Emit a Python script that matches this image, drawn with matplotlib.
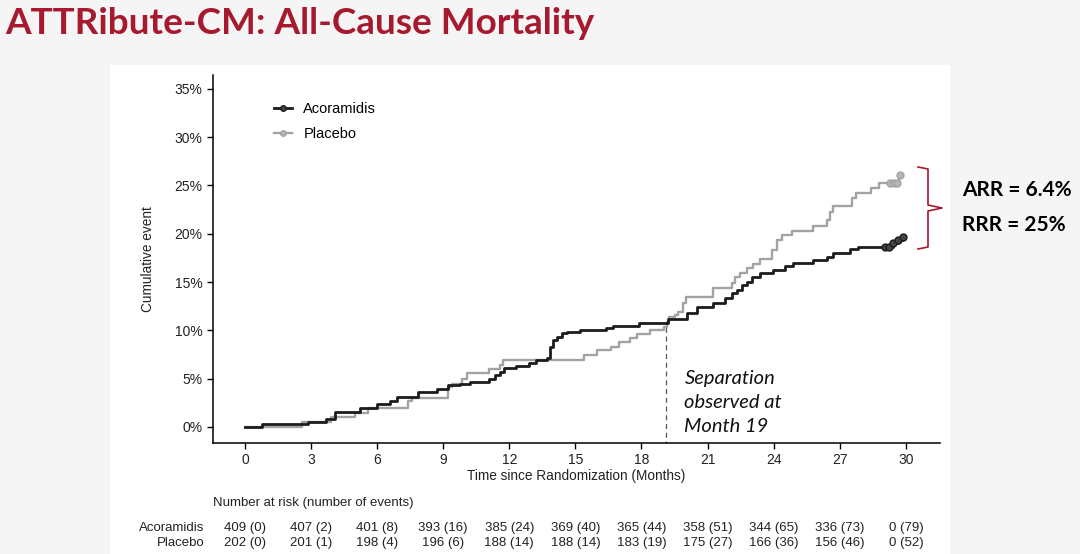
import numpy as np
from matplotlib import pyplot as plt
from matplotlib.lines import Line2D
from matplotlib.patches import Rectangle
import matplotlib.transforms as mtransforms

# curve steps (months, cumulative %)
aco_t = [0, 0.77, 2.85, 3.7, 4.1, 5.2, 6.0, 6.6, 6.9, 7.85, 8.7, 9.2, 9.75, 10.2,
         11.1, 11.35, 11.6, 11.75, 12.3, 12.9, 13.2, 13.7, 13.85, 14.0, 14.15, 14.4,
         14.6, 15.2, 16.4, 16.7, 17.9, 19.2, 20.06, 20.5, 21.24, 21.79, 22.1, 22.33,
         22.56, 22.79, 23.01, 23.38, 23.97, 24.51, 24.88, 25.79, 26.42, 26.69, 27.46,
         27.83, 29.4, 29.65, 29.85, 29.9]
aco_y = [0, 0.3, 0.5, 0.8, 1.5, 2.0, 2.4, 2.7, 3.1, 3.6, 3.9, 4.3, 4.5, 4.7,
         5.0, 5.4, 5.7, 6.1, 6.3, 6.6, 6.9, 7.1, 8.3, 9.0, 9.3, 9.7,
         9.8, 10.0, 10.2, 10.5, 10.8, 11.2, 11.8, 12.4, 12.8, 13.4, 13.9, 14.2,
         14.7, 15.0, 15.5, 15.9, 16.3, 16.7, 17.0, 17.3, 17.6, 18.0, 18.4,
         18.6, 19.0, 19.4, 19.7, 19.7]

pla_t = [0, 2.6, 3.9, 5.0, 5.6, 7.4, 7.6, 9.2, 9.4, 9.85, 10.1, 11.1, 11.6, 11.7,
         15.4, 16.0, 16.6, 17.0, 17.5, 17.8, 18.4, 19.0, 19.15, 19.25, 19.5, 19.65,
         19.9, 20.0, 21.24, 22.1, 22.24, 22.47, 22.79, 23.06, 23.38, 23.92, 24.15,
         24.38, 24.83, 25.79, 26.42, 26.55, 26.69, 27.55, 27.74, 28.42, 28.79,
         29.7, 29.75]
pla_y = [0, 0.5, 1.0, 1.4, 2.0, 2.7, 3.0, 4.1, 4.5, 5.0, 5.6, 6.0, 6.4, 6.9,
         7.5, 8.0, 8.3, 8.8, 9.2, 9.6, 10.0, 10.4, 10.9, 11.4, 11.6, 11.9,
         12.8, 13.5, 14.4, 14.9, 15.5, 15.9, 16.5, 16.9, 17.4, 18.3, 19.4,
         19.9, 20.3, 20.8, 21.4, 22.3, 22.9, 23.7, 24.2, 24.7, 25.3,
         26.1, 26.1]

# censoring marks at the end
aco_cens_t = [29.05, 29.25, 29.4, 29.65, 29.85]
aco_cens_y = [18.6, 18.6, 19.0, 19.4, 19.7]
pla_cens_t = [29.3, 29.45, 29.6, 29.75]
pla_cens_y = [25.3, 25.3, 25.3, 26.1]

# number at risk table
risk_months = [0, 3, 6, 9, 12, 15, 18, 21, 24, 27, 30]
aco_risk = ['409 (0)', '407 (2)', '401 (8)', '393 (16)', '385 (24)', '369 (40)',
            '365 (44)', '358 (51)', '344 (65)', '336 (73)', '0 (79)']
pla_risk = ['202 (0)', '201 (1)', '198 (4)', '196 (6)', '188 (14)', '188 (14)',
            '183 (19)', '175 (27)', '166 (36)', '156 (46)', '0 (52)']

sep_month = 19.1
sep_top = 10.8

black = '#1c1c1c'
grey = '#a3a3a3'
red = '#a6192e'

plt.rcParams['font.family'] = ['Liberation Sans', 'DejaVu Sans']

fig = plt.figure(figsize=(10.8, 5.54), dpi=100)
fig.patch.set_facecolor('#f5f5f5')
fig.patches.append(Rectangle((110/1080, 0), 840/1080, 1-65/554, transform=fig.transFigure,
                             facecolor='white', edgecolor='none', zorder=-5))

ax = fig.add_axes([213/1080, 1-443/554, 727/1080, 368/554])
ax.set_facecolor('none')

ax.step(aco_t, aco_y, where='post', color=black, lw=2.0, zorder=4)
ax.step(pla_t, pla_y, where='post', color=grey, lw=1.7, zorder=3)
ax.plot(aco_cens_t, aco_cens_y, 'o', ms=5, mfc='#444444', mec=black, mew=1, zorder=5)
ax.plot(pla_cens_t, pla_cens_y, 'o', ms=5, mfc='#b5b5b5', mec=grey, mew=1, zorder=5)

ax.plot([sep_month, sep_month], [-2, sep_top], ls=(0, (4, 3)), color='#555555', lw=0.9, zorder=2)
ax.text(sep_month + 0.85, 2.5, 'Separation\nobserved at\nMonth 19', family=['Lato', 'DejaVu Sans'],
        style='italic', fontsize=14.5, color='#111111', va='center', ha='left', linespacing=1.5)

ax.set_xlim(-1.45, 31.55)
ax.set_ylim(-1.66, 36.44)
ax.set_xticks(np.arange(0, 31, 3))
ax.set_yticks(np.arange(0, 36, 5))
ax.set_yticklabels([f'{v}%' for v in range(0, 36, 5)])
ax.tick_params(labelsize=10, length=4, width=1, color='black', labelcolor='#222222')
for s in ['top', 'right']:
    ax.spines[s].set_visible(False)
for s in ['left', 'bottom']:
    ax.spines[s].set_linewidth(1.1)
ax.set_xlabel('Time since Randomization (Months)', fontsize=9.8, color='#222222', labelpad=1)
ax.set_ylabel('Cumulative event', fontsize=9.8, color='#222222', labelpad=14)

handles = [Line2D([], [], color=black, lw=2.0, marker='o', ms=4, mfc='#444444', mec=black),
           Line2D([], [], color=grey, lw=1.7, marker='o', ms=4, mfc='#b5b5b5', mec=grey)]
ax.legend(handles, ['Acoramidis', 'Placebo'], loc='upper left', bbox_to_anchor=(0.066, 0.961),
          frameon=False, fontsize=10.5, handlelength=1.25, handletextpad=0.75, labelspacing=0.75)

# risk table
tr = mtransforms.blended_transform_factory(ax.transData, fig.transFigure)
fig.text(213/1080, 1-503/554, 'Number at risk (number of events)', fontsize=9.5,
         color='#222222', va='center', ha='left')
fig.text(204/1080, 1-528/554, 'Acoramidis', fontsize=9.5, color='#222222', va='center', ha='right')
fig.text(204/1080, 1-543/554, 'Placebo', fontsize=9.5, color='#222222', va='center', ha='right')
for m, a, p in zip(risk_months, aco_risk, pla_risk):
    ax.text(m, 1-528/554, a, transform=tr, fontsize=9.5, color='#222222', va='center', ha='center')
    ax.text(m, 1-543/554, p, transform=tr, fontsize=9.5, color='#222222', va='center', ha='center')

# title
fig.text(5/1080, 1-23/554, 'ATTRibute-CM: All-Cause Mortality', family=['Lato', 'DejaVu Sans'],
         fontweight='bold', fontsize=26.6, color=red, va='center', ha='left')

# bracket
bx = np.array([918, 928, 928, 942, 928, 928, 918]) / 1080
by = 1 - np.array([167, 169, 205, 208, 211, 247, 249]) / 554
fig.lines.append(Line2D(bx, by, transform=fig.transFigure, color=red, lw=1.2))

fig.text(962/1080, 1-190/554, 'ARR = 6.4%', family=['Lato', 'DejaVu Sans'], fontweight='bold',
         fontsize=15, color='black', va='center', ha='left')
fig.text(962/1080, 1-225/554, 'RRR = 25%', family=['Lato', 'DejaVu Sans'], fontweight='bold',
         fontsize=15, color='black', va='center', ha='left')

fig.savefig('out.png', dpi=100, facecolor=fig.get_facecolor())
